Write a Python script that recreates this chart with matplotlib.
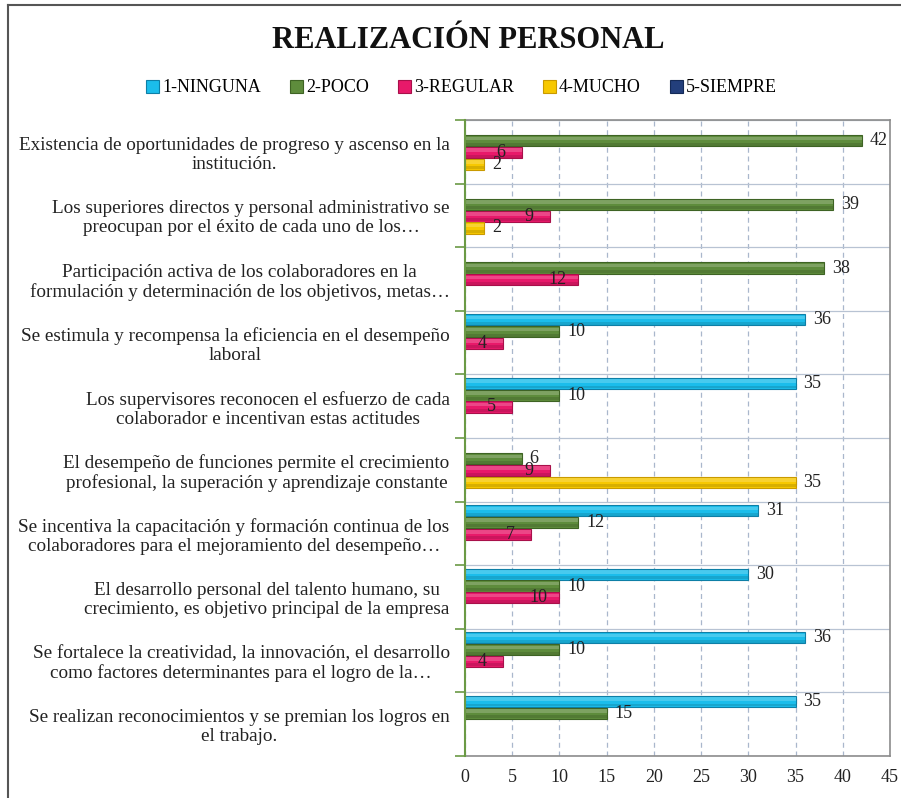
import matplotlib
matplotlib.use("Agg")
import matplotlib.pyplot as plt
from matplotlib.patches import Rectangle
from matplotlib.lines import Line2D
import numpy as np

plt.rcParams['font.family'] = ['Liberation Serif', 'DejaVu Serif']

title = "REALIZACIÓN PERSONAL"
categories = [
    "Existencia de oportunidades de progreso y ascenso en la\ninstitución.",
    "Los superiores directos y personal administrativo se\npreocupan por el éxito de cada uno de los…",
    "Participación activa de los colaboradores en la\nformulación y determinación de los objetivos, metas…",
    "Se estimula y recompensa la eficiencia en el desempeño\nlaboral",
    "Los supervisores reconocen el esfuerzo de cada\ncolaborador e incentivan estas actitudes",
    "El desempeño de funciones permite el crecimiento\nprofesional, la superación y aprendizaje constante",
    "Se incentiva la capacitación y formación continua de los\ncolaboradores para el mejoramiento del desempeño…",
    "El desarrollo personal del talento humano, su\ncrecimiento, es objetivo principal de la empresa",
    "Se fortalece la creatividad, la innovación, el desarrollo\ncomo factores determinantes para el logro de la…",
    "Se realizan reconocimientos y se premian los logros en\nel trabajo.",
]
series_names = ["1-NINGUNA", "2-POCO", "3-REGULAR", "4-MUCHO", "5-SIEMPRE"]
ninguna = [None, None, None, 36, 35, None, 31, 30, 36, 35]
poco = [42, 39, 38, 10, 10, 6, 12, 10, 10, 15]
regular = [6, 9, 12, 4, 5, 9, 7, 10, 4, None]
mucho = [2, 2, None, None, None, 35, None, None, None, None]
siempre = [None] * 10
series_values = [ninguna, poco, regular, mucho, siempre]
xticks = [0, 5, 10, 15, 20, 25, 30, 35, 40, 45]

colors = ["#1BBDEB", "#5E8C3C", "#E8196A", "#F7C800", "#233F7C"]
edges = ["#0E7FA6", "#3E6324", "#A8104A", "#C99A00", "#142A57"]
# label placement: pink labels inside end, others outside end
inside = [False, False, True, False, False]

W, H = 901, 798
fig = plt.figure(figsize=(W / 100, H / 100), dpi=100)
ax = fig.add_axes([465 / W, 1 - 756 / H, (890 - 465) / W, (756 - 120) / H])

n = len(categories)
bh = 0.185
off = 0.05
for j, vals in enumerate(series_values):
    for i, v in enumerate(vals):
        if v is None:
            continue
        yc = i + off + bh * (j + 0.5)
        ax.barh(yc, v, height=bh * 0.95, color=colors[j], edgecolor=edges[j],
                linewidth=0.8, zorder=3)
        # gradient-like shading: light top strip, darker bottom strip
        ax.barh(yc - bh * 0.2, v, height=bh * 0.3, color="white", alpha=0.2,
                linewidth=0, zorder=4)
        ax.barh(yc + bh * 0.3, v, height=bh * 0.25, color="black", alpha=0.12,
                linewidth=0, zorder=4)
        if inside[j]:
            ax.text(v - 2.2, yc, str(v), ha="center", va="center", fontsize=13,
                    color="#222222", zorder=5)
        else:
            ax.text(v + 0.85, yc, str(v), ha="left", va="center", fontsize=13,
                    color="#222222", zorder=5)

ax.set_xlim(0, 45)
ax.set_ylim(n, 0)
ax.set_xticks(xticks)
ax.set_xticklabels([str(t) for t in xticks], fontsize=13, color="#222222")
ax.tick_params(axis="x", length=0, pad=9)

ax.set_yticks(np.arange(n + 1))
ax.set_yticklabels([])
ax.tick_params(axis="y", which="major", length=7, color="#6B9A45", width=1.2)
ax.set_yticks(np.arange(n) + 0.5, minor=True)
ax.set_yticklabels(categories, minor=True, fontsize=13.8, color="#222222",
                   multialignment="center", linespacing=1.15)
ax.tick_params(axis="y", which="minor", length=0, pad=11)

ax.grid(axis="x", which="major", linestyle=(0, (4, 3)), color="#A9B7CC",
        linewidth=0.9, zorder=0)
ax.grid(axis="y", which="major", linestyle="-", color="#B8C3D3",
        linewidth=0.9, zorder=0)

for s in ["top", "right", "bottom"]:
    ax.spines[s].set_color("#8C8C8C")
    ax.spines[s].set_linewidth(1.2)
ax.spines["left"].set_color("#6B9A45")
ax.spines["left"].set_linewidth(1.5)
ax.spines["left"].set_zorder(6)

fig.text(468 / W, 1 - 40 / H, title, ha="center", va="center", fontsize=22,
         fontweight="bold", color="#111111")

handles = [Rectangle((0, 0), 1, 1, facecolor=c, edgecolor=e, linewidth=0.8)
           for c, e in zip(colors, edges)]
fig.legend(handles, series_names, loc="center", bbox_to_anchor=(0.512, 1 - 88 / H),
           ncol=5, frameon=False, fontsize=13, handlelength=0.75, handleheight=0.75,
           handletextpad=0.15, columnspacing=1.6)

# outer chart border (left and top)
fig.add_artist(Line2D([7.5 / W, 7.5 / W], [0, 1 - 5 / H], transform=fig.transFigure,
                      color="#555555", linewidth=1.5))
fig.add_artist(Line2D([7.5 / W, 1], [1 - 5 / H, 1 - 5 / H], transform=fig.transFigure,
                      color="#555555", linewidth=1.5))

fig.savefig("out.png", dpi=100)
